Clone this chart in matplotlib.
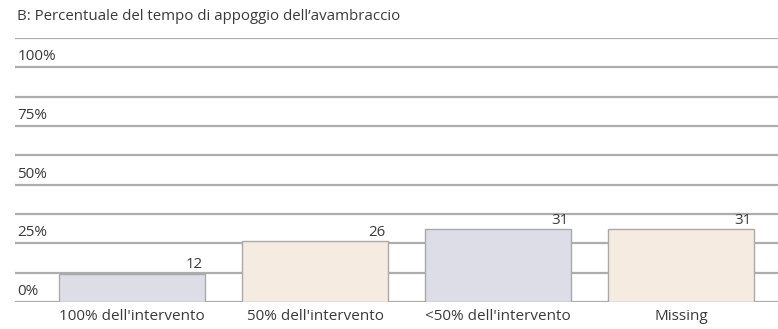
import matplotlib
matplotlib.use("Agg")
import matplotlib.pyplot as plt
from matplotlib.transforms import blended_transform_factory, offset_copy

plt.rcParams['font.family'] = ['Open Sans', 'DejaVu Sans']

title = "B: Percentuale del tempo di appoggio dell\u2019avambraccio"
categories = ["100% dell'intervento", "50% dell'intervento", "<50% dell'intervento", "Missing"]
values = [12, 26, 31, 31]
tick_values = [0, 25, 50, 75, 100]
tick_labels = ["0%", "25%", "50%", "75%", "100%"]

bar_colors = ["#dcdde6", "#f6ebe1", "#dcdde6", "#f6ebe1"]
text_color = "#3a3a3a"
grid_color = "#adadad"

W, H = 778, 329
fig = plt.figure(figsize=(W / 100, H / 100), dpi=100)
fig.patch.set_facecolor("white")

left, right, bottom, top = 15, 778, 302, 38
ax = fig.add_axes([left / W, 1 - bottom / H, (right - left) / W, (bottom - top) / H])
ax.set_xlim(-0.64, 3.53)
ax.set_ylim(0, 112.5)

# horizontal rules every 12.5%
for g in [i * 12.5 for i in range(10)]:
    ax.axhline(g, color=grid_color, lw=1.6, zorder=1)

x = list(range(len(categories)))
ax.bar(x, values, width=0.8, color=bar_colors, edgecolor="#a9a9a9", linewidth=1.0, zorder=2)

# value labels, right aligned at the bar's right edge
for xi, v in zip(x, values):
    ax.annotate(str(v), xy=(xi + 0.385, v), xytext=(0, 1), textcoords="offset points",
                ha="right", va="bottom", fontsize=10.8, color=text_color, zorder=3)

# y labels sitting above their rule
tr = blended_transform_factory(ax.transAxes, ax.transData)
for v, lab in zip(tick_values, tick_labels):
    ax.text(0.003, v, lab, transform=offset_copy(tr, fig=fig, x=0, y=3, units="dots"),
            ha="left", va="bottom", fontsize=11, color=text_color)

ax.set_xticks(x)
ax.set_xticklabels(categories, fontsize=11, color=text_color)
ax.tick_params(axis="x", length=0, pad=5)
ax.set_yticks([])
for s in ax.spines.values():
    s.set_visible(False)
ax.patch.set_alpha(0)

fig.text(17 / W, 1 - 16 / H, title, ha="left", va="center", fontsize=10.8, color=text_color)

fig.savefig("out.png", dpi=100)
